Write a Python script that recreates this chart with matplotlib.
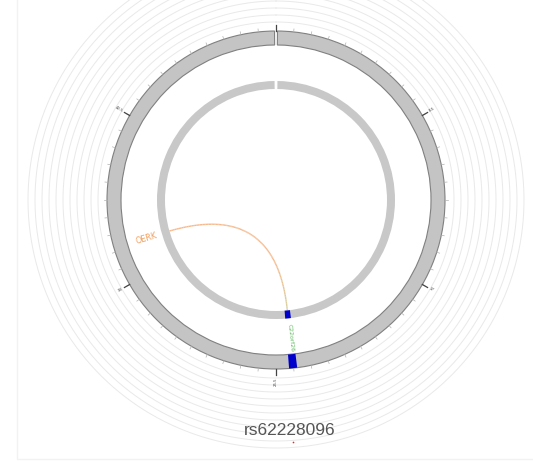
import numpy as np
import matplotlib
matplotlib.use("Agg")
import matplotlib.pyplot as plt
from matplotlib.patches import Wedge
from matplotlib.collections import LineCollection

# ---------------- data ----------------
snp_id = "rs62228096"
chrom_length = 51.0            # Mb (whole ring)
major_tick_pos = [0, 8.5, 17, 25.5, 34, 42.5]
major_tick_labels = ["0", "8.5", "17", "25.5", "34", "42.5"]
minor_tick_step = 0.85
snp_block = [24.55, 24.80]     # highlighted region (Mb)
gene_names = ["OERK", "C22orf26"]
gene_pos = [35.9, 24.67]
gene_colors = ["#f0a060", "#5cb85c"]
link_from = 35.95
link_to = 24.67

# ---------------- layout ----------------
W, H = 533, 461
fig = plt.figure(figsize=(W / 100, H / 100), dpi=100)
ax = fig.add_axes([0, 0, 1, 1])
ax.set_xlim(0, W)
ax.set_ylim(H, 0)
ax.axis("off")
cx, cy = 276, 200


def ang(pos):
    return pos / chrom_length * 360.0


def pt(theta, r):
    t = np.deg2rad(theta)
    return cx + r * np.sin(t), cy - r * np.cos(t)


def wedge(r_out, r_in, t1, t2, **kw):
    return Wedge((cx, cy), r_out, t1 - 90, t2 - 90, width=r_out - r_in, **kw)


# faint panel border
ax.plot([17, 17, W], [0, 459, 459], color="#f2f2f2", lw=1)

# background concentric circles
for r in np.arange(178, 250, 7):
    th = np.linspace(0, 2 * np.pi, 400)
    ax.plot(cx + r * np.sin(th), cy - r * np.cos(th), color="#e9e9e9", lw=0.7, zorder=1)

# outer ideogram ring
R1o, R1i = 169, 155
ax.add_patch(wedge(R1o, R1i, 0.5, 359.5, facecolor="#c4c4c4", edgecolor="#808080", lw=0.8, zorder=3))
ax.add_patch(wedge(R1o, R1i, ang(snp_block[0]) - 0.5, ang(snp_block[1]) + 0.5,
                   facecolor="#0000cc", edgecolor="none", zorder=4))

# ticks
minor = np.arange(0, chrom_length, minor_tick_step)
for p in minor:
    a = ang(p)
    x0, y0 = pt(a, R1o)
    x1, y1 = pt(a, R1o + 3)
    ax.plot([x0, x1], [y0, y1], color="#b0b0b0", lw=0.5, zorder=3)
for p, lab in zip(major_tick_pos, major_tick_labels):
    a = ang(p)
    x0, y0 = pt(a, R1o)
    x1, y1 = pt(a, R1o + 6)
    ax.plot([x0, x1], [y0, y1], color="#444444", lw=0.9, zorder=3)
    if a == 0:
        continue
    xl, yl = pt(a, R1o + 8)
    if 0 < a < 180:
        rot, ha = 90 - a, "left"
    else:
        rot, ha = 270 - a, "right"
    ax.text(xl, yl, lab, fontsize=2.8, color="#444444", rotation=rot,
            rotation_mode="anchor", ha=ha, va="center", zorder=5)

# inner ring
R2o, R2i = 119, 111
ax.add_patch(wedge(R2o, R2i, 0.7, 359.3, facecolor="#c8c8c8", edgecolor="none", zorder=3))
ax.add_patch(wedge(R2o, R2i, ang(snp_block[0]) - 0.5, ang(snp_block[1]) + 0.5,
                   facecolor="#0000cc", edgecolor="none", zorder=4))

# link (quadratic bezier through centre) with orange->green gradient
a0, a1 = ang(link_from), ang(link_to)
p0 = np.array(pt(a0, R2i))
p2 = np.array(pt(a1, R2i))
pc = np.array([cx, cy])
t = np.linspace(0, 1, 120)[:, None]
curve = (1 - t) ** 2 * p0 + 2 * (1 - t) * t * pc + t ** 2 * p2
segs = np.stack([curve[:-1], curve[1:]], axis=1)
c0 = np.array(matplotlib.colors.to_rgb("#f7b98c"))
c1 = np.array(matplotlib.colors.to_rgb("#d8d0a0"))
cols = [tuple(c0 + (c1 - c0) * max(0, (s - 0.75) / 0.25)) for s in np.linspace(0, 1, len(segs))]
ax.add_collection(LineCollection(segs, colors=cols, linewidths=1.0, zorder=2))

# gene labels
for name, p, col in zip(gene_names, gene_pos, gene_colors):
    a = ang(p)
    xl, yl = pt(a, 124)
    if 0 < a < 180:
        rot, ha = 90 - a, "left"
    else:
        rot, ha = 270 - a, "right"
    ax.text(xl, yl, name, fontsize=5.8 if ha == "right" else 4.4, color=col,
            rotation=rot, rotation_mode="anchor", ha=ha, va="center", zorder=5)

# title and marker
ax.text(290, 430, snp_id, fontsize=12.5, family="Liberation Sans", color="#555555",
        ha="center", va="center")
ax.plot([293], [442], marker="o", ms=1.2, color="#cc3333", mec="none")

fig.savefig("out.png", dpi=100)
